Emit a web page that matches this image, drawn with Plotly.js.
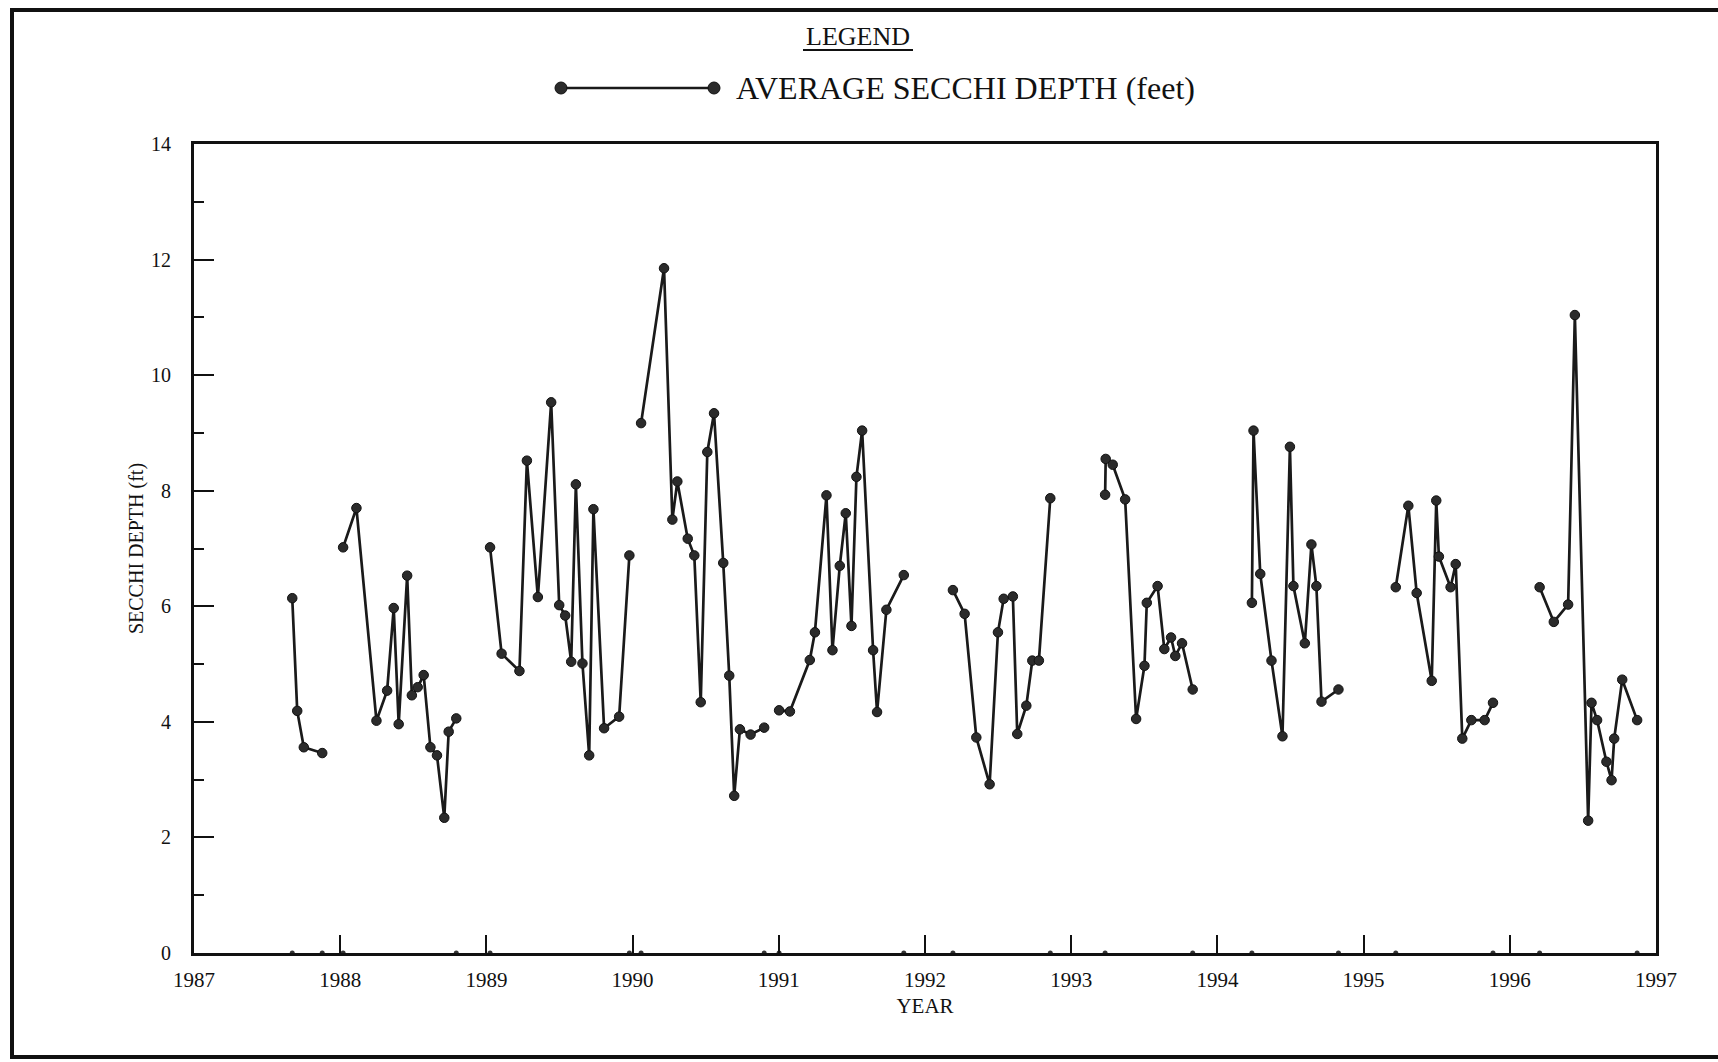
<!DOCTYPE html>
<html>
<head>
<meta charset="utf-8">
<script src="https://cdn.plot.ly/plotly-3.0.1.min.js"></script>
<style>
  html, body { margin: 0; padding: 0; background: #fff; }
  #chart { width: 1718px; height: 1062px; }
</style>
</head>
<body>
<div id="chart"></div>
<script>
// Sampling dates (decimal years); null marks a break in the record
const dates = [
  1987.672, 1987.706, 1987.751, 1987.877, null,
  1988.020, 1988.111, 1988.248, 1988.321, 1988.366, 1988.400, 1988.458, 1988.490, 1988.530, 1988.571, 1988.617, 1988.662, 1988.712, 1988.742, 1988.794, null,
  1989.025, 1989.104, 1989.226, 1989.277, 1989.352, 1989.443, 1989.498, 1989.539, 1989.580, 1989.612, 1989.657, 1989.703, 1989.732, 1989.805, 1989.908, 1989.978, null,
  1990.058, 1990.215, 1990.272, 1990.306, 1990.377, 1990.422, 1990.466, 1990.511, 1990.557, 1990.620, 1990.661, 1990.695, 1990.734, 1990.807, 1990.900, null,
  1991.002, 1991.076, 1991.212, 1991.247, 1991.326, 1991.367, 1991.417, 1991.458, 1991.497, 1991.531, 1991.570, 1991.645, 1991.672, 1991.736, 1991.855, null,
  1992.191, 1992.271, 1992.351, 1992.442, 1992.499, 1992.538, 1992.601, 1992.631, 1992.693, 1992.734, 1992.779, 1992.857, null,
  1993.232, 1993.236, 1993.284, 1993.369, 1993.444, 1993.501, 1993.517, 1993.591, 1993.637, 1993.683, 1993.712, 1993.758, 1993.831, null,
  1994.236, 1994.247, 1994.293, 1994.370, 1994.445, 1994.496, 1994.520, 1994.598, 1994.643, 1994.677, 1994.712, 1994.828, null,
  1995.220, 1995.306, 1995.363, 1995.466, 1995.497, 1995.515, 1995.595, 1995.630, 1995.675, 1995.737, 1995.828, 1995.885, null,
  1996.204, 1996.301, 1996.399, 1996.445, 1996.536, 1996.559, 1996.597, 1996.661, 1996.696, 1996.714, 1996.769, 1996.871
];

// Average Secchi depth (feet)
const depths = [
  6.14, 4.19, 3.56, 3.46, null,
  7.02, 7.70, 4.02, 4.54, 5.97, 3.96, 6.53, 4.46, 4.60, 4.81, 3.56, 3.42, 2.34, 3.83, 4.06, null,
  7.02, 5.18, 4.88, 8.52, 6.16, 9.53, 6.02, 5.84, 5.04, 8.11, 5.01, 3.42, 7.68, 3.89, 4.09, 6.88, null,
  9.17, 11.85, 7.50, 8.16, 7.17, 6.88, 4.34, 8.67, 9.34, 6.75, 4.80, 2.72, 3.87, 3.78, 3.90, null,
  4.20, 4.18, 5.07, 5.55, 7.92, 5.24, 6.70, 7.61, 5.66, 8.24, 9.04, 5.24, 4.17, 5.94, 6.54, null,
  6.28, 5.87, 3.73, 2.92, 5.55, 6.13, 6.17, 3.79, 4.28, 5.06, 5.06, 7.87, null,
  7.93, 8.55, 8.45, 7.85, 4.05, 4.97, 6.06, 6.35, 5.26, 5.46, 5.14, 5.36, 4.56, null,
  6.06, 9.04, 6.56, 5.06, 3.75, 8.76, 6.35, 5.36, 7.07, 6.35, 4.35, 4.56, null,
  6.33, 7.74, 6.23, 4.71, 7.83, 6.86, 6.33, 6.73, 3.71, 4.03, 4.03, 4.33, null,
  6.33, 5.73, 6.03, 11.04, 2.29, 4.33, 4.03, 3.31, 2.99, 3.71, 4.73, 4.03
];

const yearTicks = [1987, 1988, 1989, 1990, 1991, 1992, 1993, 1994, 1995, 1996, 1997];
const depthTicks = [0, 2, 4, 6, 8, 10, 12, 14];

const legendTitle = 'LEGEND';
const seriesName = 'AVERAGE SECCHI DEPTH (feet)';
const xTitle = 'YEAR';
const yTitle = 'SECCHI DEPTH (ft)';

// segment end dates (drawn as small dots on the time axis)
const breakDates = [];
for (let i = 0; i < dates.length; i++) {
  if (dates[i] === null) continue;
  const prevNull = (i === 0 || dates[i - 1] === null);
  const nextNull = (i === dates.length - 1 || dates[i + 1] === null);
  if (prevNull || nextNull) breakDates.push(dates[i]);
}
const breakZeros = breakDates.map(() => 0);

// plot area in pixels
const L = 194, R = 1656, T = 144, B = 953;
const W = 1718, H = 1062;
const px = x => (x - L) / (R - L);
const py = y => (B - y) / (B - T);

const FONT = 'Liberation Serif, Times New Roman, serif';
const INK = '#111';

const traces = [
  {
    x: dates, y: depths,
    type: 'scatter', mode: 'lines+markers',
    connectgaps: false,
    name: seriesName,
    line: { color: '#1a1a1a', width: 2.7 },
    marker: { size: 9.5, color: '#2b2b2b', line: { color: '#111', width: 1 } },
    showlegend: false
  },
  {
    x: breakDates, y: breakZeros,
    type: 'scatter', mode: 'markers',
    marker: { size: 5, color: '#333' },
    cliponaxis: false,
    showlegend: false,
    hoverinfo: 'skip'
  }
];

const shapes = [
  // outer frame
  { type: 'line', xref: 'paper', yref: 'paper', x0: px(12), x1: px(12), y0: py(9), y1: py(1058), line: { color: '#111', width: 4 } },
  { type: 'line', xref: 'paper', yref: 'paper', x0: px(10), x1: px(W + 5), y0: py(10), y1: py(10), line: { color: '#111', width: 4 } },
  { type: 'line', xref: 'paper', yref: 'paper', x0: px(10), x1: px(W + 5), y0: py(1057), y1: py(1057), line: { color: '#111', width: 4 } },
  // legend underline
  { type: 'line', xref: 'paper', yref: 'paper', x0: px(803), x1: px(913), y0: py(50), y1: py(50), line: { color: '#111', width: 2 } },
  // legend sample line and markers
  { type: 'line', xref: 'paper', yref: 'paper', x0: px(561), x1: px(714), y0: py(88), y1: py(88), line: { color: '#1a1a1a', width: 2.5 } },
  { type: 'circle', xref: 'paper', yref: 'paper', x0: px(555), x1: px(567), y0: py(82), y1: py(94), fillcolor: '#2b2b2b', line: { color: '#111', width: 1 } },
  { type: 'circle', xref: 'paper', yref: 'paper', x0: px(708), x1: px(720), y0: py(82), y1: py(94), fillcolor: '#2b2b2b', line: { color: '#111', width: 1 } }
];

const annotations = [
  { xref: 'paper', yref: 'paper', x: px(858), y: py(37), text: legendTitle, showarrow: false,
    xanchor: 'center', yanchor: 'middle', font: { family: FONT, size: 26, color: INK } },
  { xref: 'paper', yref: 'paper', x: px(734), y: py(88), text: seriesName, showarrow: false,
    xanchor: 'left', yanchor: 'middle', font: { family: FONT, size: 32, color: INK } }
];

const layout = {
  width: W, height: H,
  margin: { l: L, r: W - R, t: T, b: H - B, pad: 0 },
  paper_bgcolor: '#fff', plot_bgcolor: '#fff',
  font: { family: FONT, color: INK, size: 20 },
  showlegend: false,
  xaxis: {
    range: [1987, 1997],
    tickmode: 'array', tickvals: yearTicks, ticktext: yearTicks.map(String),
    ticks: 'inside', ticklen: 18, tickwidth: 2, tickcolor: '#111',
    ticklabelstandoff: 6,
    showline: true, linewidth: 3, linecolor: '#111', mirror: true,
    showgrid: false, zeroline: false,
    tickfont: { family: FONT, size: 21, color: INK },
    title: { text: xTitle, font: { family: FONT, size: 21, color: INK }, standoff: 8 }
  },
  yaxis: {
    range: [0, 14],
    tickmode: 'array', tickvals: depthTicks, ticktext: depthTicks.map(String),
    ticks: 'inside', ticklen: 20, tickwidth: 2, tickcolor: '#111',
    ticklabelstandoff: 16,
    minor: { tickmode: 'linear', tick0: 0, dtick: 1, ticks: 'inside', ticklen: 10, tickwidth: 2, tickcolor: '#111' },
    showline: true, linewidth: 3, linecolor: '#111', mirror: true,
    showgrid: false, zeroline: false,
    tickfont: { family: FONT, size: 20, color: INK },
    title: { text: yTitle, font: { family: FONT, size: 20, color: INK }, standoff: 3 }
  },
  shapes: shapes,
  annotations: annotations
};

Plotly.newPlot('chart', traces, layout, { staticPlot: true, displayModeBar: false });
</script>
</body>
</html>
